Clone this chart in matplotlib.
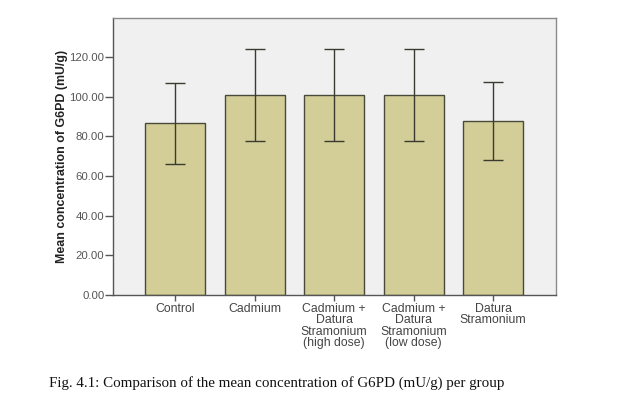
import matplotlib.pyplot as plt
import numpy as np

# group names and values
groups = ['Control', 'Cadmium', 'Cadmium +\nDatura\nStramonium\n(high dose)',
          'Cadmium +\nDatura\nStramonium\n(low dose)', 'Datura\nStramonium']
means = [86.5, 100.8, 100.8, 100.8, 87.8]
errors = [20.3, 23.1, 23.1, 23.1, 19.6]
yticks = [0, 20, 40, 60, 80, 100, 120]

fig = plt.figure(figsize=(6.22, 3.98), dpi=100)
ax = fig.add_axes([0.1822, 0.2588, 0.7118, 0.6952])
ax.set_facecolor('#f0f0f0')

x = np.arange(len(groups))
ax.bar(x, means, width=0.755, color='#d3cd97', edgecolor='#4a4a3a', linewidth=1.0)
ax.errorbar(x, means, yerr=errors, fmt='none', ecolor='#3a3a30',
            elinewidth=1.0, capsize=7.5, capthick=1.0)

ax.set_xlim(-0.776, 4.79)
ax.set_ylim(0, 139.4)
ax.set_yticks(yticks)
ax.set_yticklabels([f'{v:.2f}' for v in yticks], fontsize=8.2, color='#555555',
                   family='Liberation Sans')
ax.set_xticks(x)
ax.set_xticklabels(groups, fontsize=8.8, color='#444444', linespacing=0.95,
                   family='Liberation Sans')
ax.tick_params(axis='y', length=6, width=1, color='#555555', pad=0.5)
ax.tick_params(axis='x', length=4, width=1, color='#555555', pad=1.5)

for s in ax.spines.values():
    s.set_color('#8a8a8a')
    s.set_linewidth(1.0)
ax.spines['left'].set_color('#555555')
ax.spines['bottom'].set_color('#555555')

ax.set_ylabel('Mean concentration of G6PD (mU/g)', fontsize=8.9, fontweight='bold',
              family='Liberation Sans', color='#222222', labelpad=1)

fig.text(0.079, 0.038, 'Fig. 4.1: Comparison of the mean concentration of G6PD (mU/g) per group',
         family='Liberation Serif', fontsize=10.8, color='#111111', va='center', ha='left')

fig.savefig('out.png', dpi=100)
